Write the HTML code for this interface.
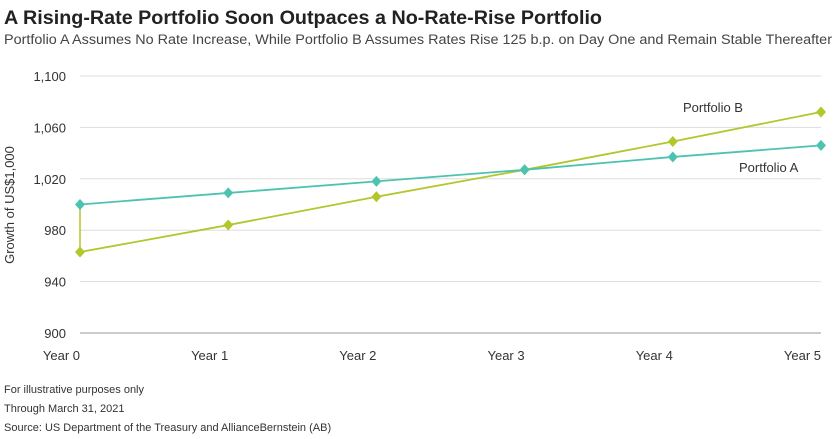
<!DOCTYPE html>
<html><head><meta charset="utf-8"><style>
body{margin:0;width:840px;height:434px;background:#fff;font-family:"Liberation Sans",sans-serif;overflow:hidden}
</style></head><body>
<svg width="840" height="434" font-family="Liberation Sans, sans-serif">
<text x="4" y="24" font-size="19.5" font-weight="bold" fill="#222" textLength="598" lengthAdjust="spacingAndGlyphs">A Rising-Rate Portfolio Soon Outpaces a No-Rate-Rise Portfolio</text>
<text x="4" y="44" font-size="13.5" fill="#444" textLength="828" lengthAdjust="spacingAndGlyphs">Portfolio A Assumes No Rate Increase, While Portfolio B Assumes Rates Rise 125 b.p. on Day One and Remain Stable Thereafter</text>
<g id="grid"></g><g id="series"></g>
<text transform="translate(14,205) rotate(-90)" text-anchor="middle" font-size="13" fill="#333">Growth of US$1,000</text>
<text x="683" y="112" font-size="13" fill="#333">Portfolio B</text>
<text x="739" y="172" font-size="13" fill="#333">Portfolio A</text>
<text x="4" y="393" font-size="11" fill="#333">For illustrative purposes only</text>
<text x="4" y="412" font-size="11" fill="#333">Through March 31, 2021</text>
<text x="4" y="431" font-size="11" fill="#333">Source: US Department of the Treasury and AllianceBernstein (AB)</text>
</svg>
<script>
const categories=["Year 0","Year 1","Year 2","Year 3","Year 4","Year 5"];
const portfolioA=[1000,1009,1018,1027,1037,1046];
const portfolioB=[963,984,1006,1027,1049,1072];
const yTicks=[900,940,980,1020,1060,1100];
const yTickLabels=["900","940","980","1,020","1,060","1,100"];
const NS="http://www.w3.org/2000/svg";
const x=i=>80+i*(821-80)/(categories.length-1);
const y=v=>333-(v-900)*(333-76)/200;
function mk(t,a,p){const e=document.createElementNS(NS,t);for(const k in a)e.setAttribute(k,a[k]);p.appendChild(e);return e;}
const grid=document.getElementById('grid'),ser=document.getElementById('series');
yTicks.forEach((v,i)=>{
 const l=mk('line',{x1:80,x2:821,y1:y(v),y2:y(v),stroke:i==0?'#bbb':'#ddd','stroke-width':i==0?1.5:1},grid);
 
 
 const t=mk('text',{x:66,y:y(v)+5,'text-anchor':'end','font-size':13,fill:'#333'},grid);
 t.textContent=yTickLabels[i];
 
 
});
categories.forEach((c,i)=>{
 const t=mk('text',{x:x(i),y:360,'text-anchor':'end','font-size':13,fill:'#333'},grid);
 t.textContent=c;
 
 
});
const cA='#4cc3b1',cB='#b3c62a';
const v0=mk('line',{x1:x(0),x2:x(0),y1:y(portfolioA[0]),y2:y(portfolioB[0]),stroke:cB,'stroke-width':1.5},ser);


[[portfolioB,cB,'b'],[portfolioA,cA,'a']].forEach(([d,c,n])=>{
 const pl=mk('polyline',{points:d.map((v,i)=>x(i)+','+y(v)).join(' '),fill:'none',stroke:c,'stroke-width':1.8},ser);
 
 
 d.forEach((v,i)=>{
  const cx=x(i),cy=y(v);
  const p=mk('polygon',{points:`${cx},${cy-5.5} ${cx+5},${cy} ${cx},${cy+5.5} ${cx-5},${cy}`,fill:c},ser);
  
  
 });
});
</script>
</body></html>
